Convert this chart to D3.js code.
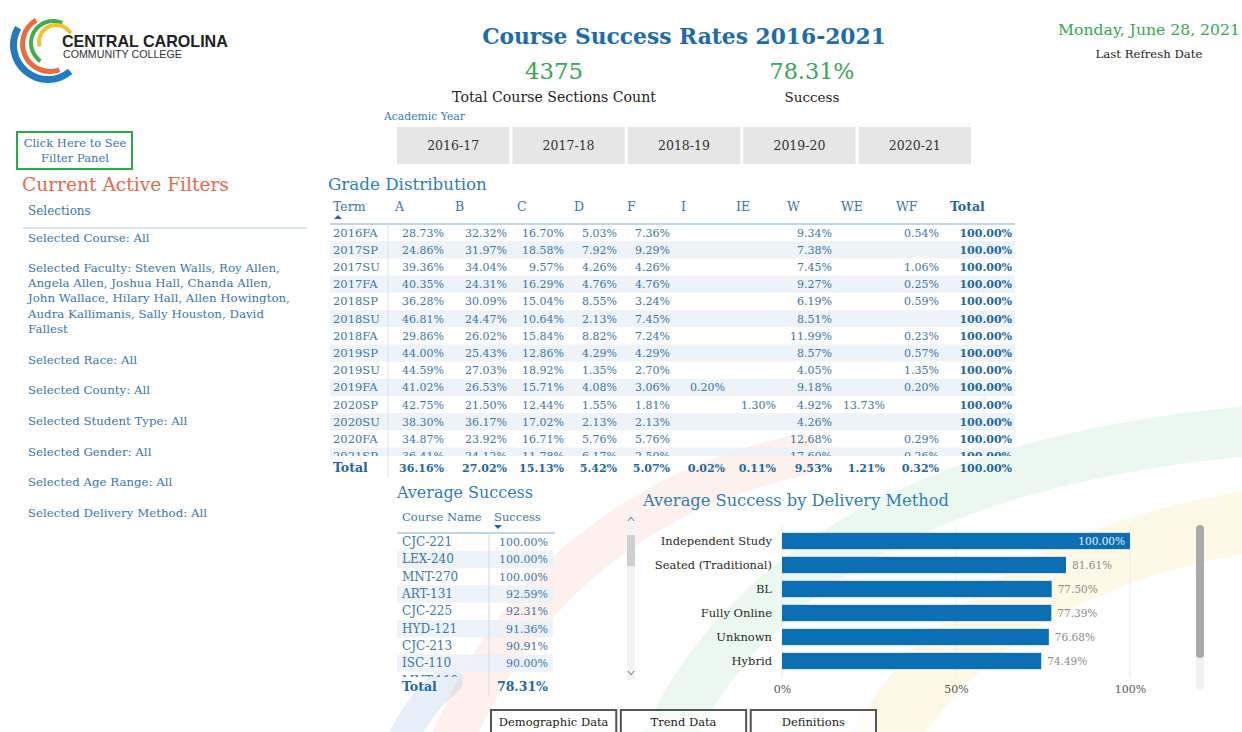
<!DOCTYPE html>
<html>
<head>
<meta charset="utf-8">
<script src="https://cdn.jsdelivr.net/npm/d3@7"></script>
<style>
  body { margin: 0; background: #fff; }
  svg { display: block; font-family: 'DejaVu Serif', Georgia, serif; }
</style>
</head>
<body>
<div id="viz"></div>
<script>
// ---- data ----
const years = ['2016-17', '2017-18', '2018-19', '2019-20', '2020-21'];
const gradeCols = ['A', 'B', 'C', 'D', 'F', 'I', 'IE', 'W', 'WE', 'WF', 'Total'];
const terms = ['2016FA', '2017SP', '2017SU', '2017FA', '2018SP', '2018SU', '2018FA',
  '2019SP', '2019SU', '2019FA', '2020SP', '2020SU', '2020FA', '2021SP'];
const gradeRows = [
  [28.73, 32.32, 16.70, 5.03, 7.36, null, null, 9.34, null, 0.54, 100],
  [24.86, 31.97, 18.58, 7.92, 9.29, null, null, 7.38, null, null, 100],
  [39.36, 34.04, 9.57, 4.26, 4.26, null, null, 7.45, null, 1.06, 100],
  [40.35, 24.31, 16.29, 4.76, 4.76, null, null, 9.27, null, 0.25, 100],
  [36.28, 30.09, 15.04, 8.55, 3.24, null, null, 6.19, null, 0.59, 100],
  [46.81, 24.47, 10.64, 2.13, 7.45, null, null, 8.51, null, null, 100],
  [29.86, 26.02, 15.84, 8.82, 7.24, null, null, 11.99, null, 0.23, 100],
  [44.00, 25.43, 12.86, 4.29, 4.29, null, null, 8.57, null, 0.57, 100],
  [44.59, 27.03, 18.92, 1.35, 2.70, null, null, 4.05, null, 1.35, 100],
  [41.02, 26.53, 15.71, 4.08, 3.06, 0.20, null, 9.18, null, 0.20, 100],
  [42.75, 21.50, 12.44, 1.55, 1.81, null, 1.30, 4.92, 13.73, null, 100],
  [38.30, 36.17, 17.02, 2.13, 2.13, null, null, 4.26, null, null, 100],
  [34.87, 23.92, 16.71, 5.76, 5.76, null, null, 12.68, null, 0.29, 100],
  [36.41, 24.12, 11.78, 6.17, 2.50, null, null, 17.60, null, 0.26, 100]
];
const gradeTotals = [36.16, 27.02, 15.13, 5.42, 5.07, 0.02, 0.11, 9.53, 1.21, 0.32, 100];

const courses = ['CJC-221', 'LEX-240', 'MNT-270', 'ART-131', 'CJC-225', 'HYD-121', 'CJC-213', 'ISC-110', 'MNT-110'];
const courseSuccess = [100, 100, 100, 92.59, 92.31, 91.36, 90.91, 90.00, 88.89];
const courseTotal = 78.31;

const methods = ['Independent Study', 'Seated (Traditional)', 'BL', 'Fully Online', 'Unknown', 'Hybrid'];
const methodSuccess = [100, 81.61, 77.50, 77.39, 76.68, 74.49];
const methodTicks = [0, 0.5, 1];

const sectionCount = 4375;
const overallSuccess = 78.31;
const filterLines = [
  ['Selected Course: All'],
  ['Selected Faculty: Steven Walls, Roy Allen,', 'Angela Allen, Joshua Hall, Chanda Allen,',
   'John Wallace, Hilary Hall, Allen Howington,', 'Audra Kallimanis, Sally Houston, David', 'Fallest'],
  ['Selected Race: All'],
  ['Selected County: All'],
  ['Selected Student Type: All'],
  ['Selected Gender: All'],
  ['Selected Age Range: All'],
  ['Selected Delivery Method: All']
];
const tabs = ['Demographic Data', 'Trend Data', 'Definitions'];

// ---- colours ----
const titleBlue = '#1c6cab';
const headBlue = '#2f7db8';
const textBlue = '#3a76a6';
const boldBlue = '#1f67a0';
const green = '#34a853';
const shade = '#eaf1f8';
const fmt = d => d3.format('.2f')(d) + '%';

const svg = d3.select('#viz')
  .append('svg:svg')
  .attr('width', 1242)
  .attr('height', 732);

// scale font-size so the text gets a given width
function fit(sel, w) {
  sel.each(function () {
    const l = this.getComputedTextLength();
    const fs = parseFloat(d3.select(this).attr('font-size'));
    if (l > 0) d3.select(this).attr('font-size', fs * w / l);
  });
  return sel;
}

// ---- watermark arcs ----
const wm = svg.append('svg:g').attr('fill', 'none').attr('stroke-linecap', 'round');
wm.append('svg:path').attr('d', 'M 400 745 Q 418 705 448 680')
  .attr('stroke', '#2f7fc4').attr('stroke-width', 30).attr('opacity', 0.12);
wm.append('svg:path').attr('d', 'M 450 745 Q 550 510 800 455')
  .attr('stroke', '#f07a5a').attr('stroke-width', 42).attr('opacity', 0.11);
wm.append('svg:path').attr('d', 'M 665 745 Q 790 470 1260 430')
  .attr('stroke', '#5cc37a').attr('stroke-width', 50).attr('opacity', 0.12);
wm.append('svg:path').attr('d', 'M 880 745 Q 990 560 1260 520')
  .attr('stroke', '#f5d25a').attr('stroke-width', 62).attr('opacity', 0.15);

// ---- logo ----
const logo = svg.append('svg:g');
const arc = d3.arc();
const deg = Math.PI / 180;
[
  {c: [48, 45], r0: 31, r1: 38, a0: 140, a1: 300, col: '#1f7cc1'},
  {c: [50, 44], r0: 25, r1: 30, a0: 160, a1: 330, col: '#ec6a3c'},
  {c: [53, 43], r0: 20, r1: 24, a0: 215, a1: 385, col: '#3cae4a'},
  {c: [56, 42], r0: 15, r1: 19, a0: 255, a1: 420, col: '#f2c230'}
].forEach(a => {
  logo.append('svg:path')
    .attr('transform', `translate(${a.c[0]} ${a.c[1]})`)
    .attr('d', arc({innerRadius: a.r0, outerRadius: a.r1, startAngle: a.a0 * deg, endAngle: a.a1 * deg}))
    .attr('fill', a.col);
});
fit(logo.append('svg:text').attr('x', 62).attr('y', 47).attr('font-family', "'Liberation Sans', Arial, sans-serif")
  .attr('font-weight', 'bold').attr('font-size', 18).attr('fill', '#222').text('CENTRAL CAROLINA'), 166);
fit(logo.append('svg:text').attr('x', 63).attr('y', 58).attr('font-family', "'Liberation Sans', Arial, sans-serif")
  .attr('font-size', 10).attr('fill', '#333').text('COMMUNITY COLLEGE'), 119);

// ---- header ----
fit(svg.append('svg:text').attr('x', 684).attr('y', 44).attr('text-anchor', 'middle')
  .attr('font-weight', 'bold').attr('font-size', 22).attr('fill', titleBlue)
  .text('Course Success Rates 2016-2021'), 404);
fit(svg.append('svg:text').attr('x', 554).attr('y', 79).attr('text-anchor', 'middle')
  .attr('font-size', 24).attr('fill', green).text(sectionCount), 58);
fit(svg.append('svg:text').attr('x', 812).attr('y', 79).attr('text-anchor', 'middle')
  .attr('font-size', 24).attr('fill', green).text(fmt(overallSuccess)), 85);
fit(svg.append('svg:text').attr('x', 554).attr('y', 102).attr('text-anchor', 'middle')
  .attr('font-size', 14).attr('fill', '#222').text('Total Course Sections Count'), 204);
fit(svg.append('svg:text').attr('x', 812).attr('y', 102).attr('text-anchor', 'middle')
  .attr('font-size', 14).attr('fill', '#222').text('Success'), 55);
fit(svg.append('svg:text').attr('x', 1149).attr('y', 35).attr('text-anchor', 'middle')
  .attr('font-size', 15).attr('fill', green).text('Monday, June 28, 2021'), 182);
fit(svg.append('svg:text').attr('x', 1149).attr('y', 58).attr('text-anchor', 'middle')
  .attr('font-size', 12).attr('fill', '#222').text('Last Refresh Date'), 107);

// ---- academic year buttons ----
fit(svg.append('svg:text').attr('x', 384).attr('y', 120).attr('font-size', 10)
  .attr('fill', headBlue).text('Academic Year'), 81);
const yx = d3.scaleBand().domain(years).range([397, 971]).paddingInner(0.027);
const yb = svg.append('svg:g').selectAll('g').data(years).join('svg:g');
yb.append('svg:rect').attr('x', d => yx(d)).attr('y', 127)
  .attr('width', yx.bandwidth()).attr('height', 37).attr('fill', '#e6e6e6');
yb.append('svg:text').attr('x', d => yx(d) + yx.bandwidth() / 2).attr('y', 150)
  .attr('text-anchor', 'middle').attr('font-size', 12.5).attr('fill', '#333').text(d => d);

// ---- left filter panel ----
svg.append('svg:rect').attr('x', 17).attr('y', 132).attr('width', 115).attr('height', 37)
  .attr('fill', 'none').attr('stroke', '#2aa84a').attr('stroke-width', 2);
svg.append('svg:text').attr('x', 75).attr('y', 147).attr('text-anchor', 'middle')
  .attr('font-size', 11.5).attr('fill', textBlue).text('Click Here to See');
svg.append('svg:text').attr('x', 75).attr('y', 162).attr('text-anchor', 'middle')
  .attr('font-size', 11.5).attr('fill', textBlue).text('Filter Panel');
fit(svg.append('svg:text').attr('x', 22).attr('y', 191).attr('font-size', 18)
  .attr('fill', '#e8694a').text('Current Active Filters'), 207);
svg.append('svg:text').attr('x', 28).attr('y', 215).attr('font-size', 12)
  .attr('fill', textBlue).text('Selections');
svg.append('svg:line').attr('x1', 23).attr('x2', 307).attr('y1', 228).attr('y2', 228)
  .attr('stroke', '#cddcea').attr('stroke-width', 1.5);
const filterY = [242, 272, 364, 394, 425, 456, 486, 517];
filterLines.forEach((lines, i) => {
  lines.forEach((t, j) => {
    svg.append('svg:text').attr('x', 28).attr('y', filterY[i] + j * 15.2)
      .attr('font-size', 11.8).attr('fill', textBlue).text(t);
  });
});

// ---- grade distribution table ----
fit(svg.append('svg:text').attr('x', 328).attr('y', 190).attr('font-size', 17)
  .attr('fill', headBlue).text('Grade Distribution'), 159);
const colRight = d3.scaleOrdinal().domain(gradeCols)
  .range([444, 507, 564, 617, 670, 725, 776, 832, 885, 939, 1012]);
const colLeft = d3.scaleOrdinal().domain(gradeCols)
  .range([395, 455, 517, 574, 627, 681, 736, 787, 841, 896, 950]);
const ry = d3.scaleBand().domain(terms).range([224, 224 + terms.length * 17.2]);

const gt = svg.append('svg:g').attr('font-size', 11);
gt.append('svg:text').attr('x', 333).attr('y', 211).attr('font-size', 12.5)
  .attr('fill', textBlue).text('Term');
gt.append('svg:path').attr('d', 'M334 219 L338 215 L342 219 Z').attr('fill', boldBlue);
gt.selectAll('text.h').data(gradeCols).join('svg:text').attr('class', 'h')
  .attr('x', d => colLeft(d)).attr('y', 211).attr('font-size', 12.5)
  .attr('font-weight', d => d === 'Total' ? 'bold' : null)
  .attr('fill', d => d === 'Total' ? boldBlue : textBlue).text(d => d);

svg.append('defs').append('clipPath').attr('id', 'gclip')
  .append('rect').attr('x', 320).attr('y', 224).attr('width', 720).attr('height', 232);
const body = gt.append('svg:g').attr('clip-path', 'url(#gclip)');
const rows = body.selectAll('g').data(terms).join('svg:g')
  .attr('transform', d => `translate(0 ${ry(d)})`);
rows.append('svg:rect').attr('x', 330).attr('width', 685).attr('height', ry.bandwidth())
  .attr('fill', (d, i) => i % 2 ? shade : 'none').attr('opacity', 0.85);
rows.append('svg:text').attr('x', 333).attr('y', ry.bandwidth() / 2 + 4)
  .attr('font-size', 11.5).attr('fill', textBlue).text(d => d);
rows.each(function (t, i) {
  d3.select(this).selectAll('text.v')
    .data(gradeRows[i].map((v, k) => ({c: gradeCols[k], v})).filter(d => d.v !== null))
    .join('svg:text').attr('class', 'v')
    .attr('x', d => colRight(d.c)).attr('y', ry.bandwidth() / 2 + 4)
    .attr('text-anchor', 'end')
    .attr('font-weight', d => d.c === 'Total' ? 'bold' : null)
    .attr('fill', d => d.c === 'Total' ? boldBlue : textBlue)
    .text(d => fmt(d.v));
});
gt.append('svg:line').attr('x1', 330).attr('x2', 1015).attr('y1', 224).attr('y2', 224)
  .attr('stroke', '#a9c9e6').attr('stroke-width', 1.5);
gt.append('svg:line').attr('x1', 388).attr('x2', 388).attr('y1', 224).attr('y2', 477)
  .attr('stroke', '#d6e4f0').attr('stroke-width', 1);
gt.append('svg:text').attr('x', 333).attr('y', 472).attr('font-weight', 'bold')
  .attr('font-size', 12.5).attr('fill', boldBlue).text('Total');
gt.selectAll('text.t').data(gradeTotals).join('svg:text').attr('class', 't')
  .attr('x', (d, k) => colRight(gradeCols[k])).attr('y', 472).attr('text-anchor', 'end')
  .attr('font-weight', 'bold').attr('fill', boldBlue).text(d => fmt(d));

// ---- average success by course ----
fit(svg.append('svg:text').attr('x', 397).attr('y', 498).attr('font-size', 16)
  .attr('fill', headBlue).text('Average Success'), 136);
const ct = svg.append('svg:g').attr('font-size', 11);
ct.append('svg:text').attr('x', 402).attr('y', 521).attr('font-size', 11.5)
  .attr('fill', textBlue).text('Course Name');
ct.append('svg:text').attr('x', 494).attr('y', 521).attr('font-size', 11.5)
  .attr('fill', textBlue).text('Success');
ct.append('svg:path').attr('d', 'M494 525 L502 525 L498 529 Z').attr('fill', boldBlue);
const cy = d3.scaleBand().domain(courses).range([533.5, 533.5 + courses.length * 17.3]);
svg.select('defs').append('clipPath').attr('id', 'cclip')
  .append('rect').attr('x', 390).attr('y', 533).attr('width', 180).attr('height', 144);
const crow = ct.append('svg:g').attr('clip-path', 'url(#cclip)')
  .selectAll('g').data(courses).join('svg:g')
  .attr('transform', d => `translate(0 ${cy(d)})`);
crow.append('svg:rect').attr('x', 397).attr('width', 156).attr('height', cy.bandwidth())
  .attr('fill', (d, i) => i % 2 ? shade : 'none').attr('opacity', 0.85);
crow.append('svg:text').attr('x', 402).attr('y', cy.bandwidth() / 2 + 4)
  .attr('font-size', 12).attr('fill', textBlue).text(d => d);
crow.append('svg:text').attr('x', 548).attr('y', cy.bandwidth() / 2 + 4)
  .attr('text-anchor', 'end').attr('fill', textBlue)
  .text((d, i) => fmt(courseSuccess[i]));
ct.append('svg:line').attr('x1', 397).attr('x2', 555).attr('y1', 533).attr('y2', 533)
  .attr('stroke', '#a9c9e6').attr('stroke-width', 1.5);
ct.append('svg:line').attr('x1', 489).attr('x2', 489).attr('y1', 533).attr('y2', 696)
  .attr('stroke', '#c9dbea').attr('stroke-width', 1);
ct.append('svg:text').attr('x', 402).attr('y', 691).attr('font-weight', 'bold')
  .attr('font-size', 12.5).attr('fill', boldBlue).text('Total');
ct.append('svg:text').attr('x', 548).attr('y', 691).attr('text-anchor', 'end')
  .attr('font-weight', 'bold').attr('font-size', 12.5).attr('fill', boldBlue).text(fmt(courseTotal));

// small scrollbar between the tables
const sb = svg.append('svg:g');
sb.append('svg:rect').attr('x', 627).attr('y', 508).attr('width', 8).attr('height', 172).attr('fill', '#f3f3f3');
sb.append('svg:rect').attr('x', 627).attr('y', 535).attr('width', 8).attr('height', 31).attr('fill', '#cfcfcf');
sb.append('svg:path').attr('d', 'M628 521 L631 517 L634 521').attr('fill', 'none').attr('stroke', '#777');
sb.append('svg:path').attr('d', 'M628 671 L631 675 L634 671').attr('fill', 'none').attr('stroke', '#777');

// ---- average success by delivery method ----
fit(svg.append('svg:text').attr('x', 643).attr('y', 506).attr('font-size', 17)
  .attr('fill', headBlue).text('Average Success by Delivery Method'), 306);
const bx = d3.scaleLinear().domain([0, 1]).range([782, 1130]);
const by = d3.scaleBand().domain(methods).range([529, 673]).paddingInner(0.32).paddingOuter(0.16);
const bars = svg.append('svg:g');
bars.selectAll('line.g').data(methodTicks).join('svg:line').attr('class', 'g')
  .attr('x1', d => bx(d)).attr('x2', d => bx(d)).attr('y1', 525).attr('y2', 678)
  .attr('stroke', '#ececec').attr('stroke-width', 1);
bars.selectAll('rect').data(methods).join('svg:rect')
  .attr('x', bx(0)).attr('y', d => by(d))
  .attr('width', (d, i) => bx(methodSuccess[i] / 100) - bx(0)).attr('height', by.bandwidth())
  .attr('fill', '#0c6fb4');
bars.selectAll('text.c').data(methods).join('svg:text').attr('class', 'c')
  .attr('x', 772).attr('y', d => by(d) + by.bandwidth() / 2 + 4).attr('text-anchor', 'end')
  .attr('font-size', 11.5).attr('fill', '#2a2a2a').text(d => d);
bars.selectAll('text.v').data(methodSuccess).join('svg:text').attr('class', 'v')
  .attr('x', d => d >= 100 ? bx(d / 100) - 5 : bx(d / 100) + 6)
  .attr('y', (d, i) => by(methods[i]) + by.bandwidth() / 2 + 4)
  .attr('text-anchor', d => d >= 100 ? 'end' : 'start')
  .attr('font-size', 10.5)
  .attr('fill', d => d >= 100 ? '#e8f0f8' : '#8a8a8a').text(d => fmt(d));
const axis = bars.append('svg:g').attr('transform', 'translate(0 682)')
  .call(d3.axisBottom(bx).tickValues(methodTicks).tickSize(0).tickFormat(d3.format('.0%')));
axis.select('.domain').remove();
axis.selectAll('text').attr('font-family', "'DejaVu Serif', Georgia, serif")
  .attr('font-size', 11).attr('fill', '#555');

// right scrollbar
svg.append('svg:rect').attr('x', 1196).attr('y', 525).attr('width', 8).attr('height', 165)
  .attr('rx', 4).attr('fill', '#f2f2f2');
svg.append('svg:rect').attr('x', 1196).attr('y', 525).attr('width', 8).attr('height', 133)
  .attr('rx', 4).attr('fill', '#a9a9a9');

// ---- bottom tabs ----
const tx = d3.scaleBand().domain(tabs).range([490, 877]).paddingInner(0.02);
const tb = svg.append('svg:g').selectAll('g').data(tabs).join('svg:g');
tb.append('svg:rect').attr('x', d => tx(d) + 1).attr('y', 710).attr('width', tx.bandwidth() - 2)
  .attr('height', 26).attr('fill', '#fff').attr('fill-opacity', 0.7)
  .attr('stroke', '#555').attr('stroke-width', 2);
tb.append('svg:text').attr('x', d => tx(d) + tx.bandwidth() / 2).attr('y', 726)
  .attr('text-anchor', 'middle').attr('font-size', 11.5).attr('fill', '#222').text(d => d);
</script>
</body>
</html>
